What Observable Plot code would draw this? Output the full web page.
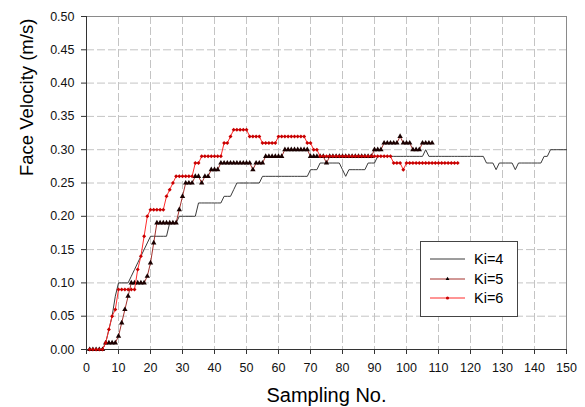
<!DOCTYPE html>
<html><head><meta charset="utf-8">
<script src="https://cdn.jsdelivr.net/npm/d3@7"></script>
<script src="https://cdn.jsdelivr.net/npm/@observablehq/plot@0.6"></script>
<style>
body{margin:0;background:#fff;font-family:Arial,"Liberation Sans",sans-serif;}
#wrap{position:relative;width:585px;height:407px;overflow:hidden;}
#legend{position:absolute;left:420px;top:241px;width:96px;height:74px;border:1px solid #444;background:#fff;font-size:14.5px;color:#000;}
#legend .row{position:absolute;left:0;height:18px;width:96px;}
#legend svg{position:absolute;left:9px;top:0;}
#legend span{position:absolute;left:53px;top:0;line-height:18px;}
</style></head><body><div id="wrap"></div>
<script>
const seriesNames = ["Ki=4", "Ki=5", "Ki=6"];
const xTicks = [0,10,20,30,40,50,60,70,80,90,100,110,120,130,140,150];
const yTicks = [0,0.05,0.10,0.15,0.20,0.25,0.30,0.35,0.40,0.45,0.50];

const ki4 = [
0,0,0,0,0,0.01,0.03,0.05,0.08,0.10,
0.10,0.10,0.10,0.11,0.12,0.13,0.14,0.15,0.16,0.17,
0.17,0.17,0.17,0.17,0.17,0.19,0.19,0.19,0.20,0.20,
0.20,0.20,0.20,0.20,0.22,0.22,0.22,0.22,0.22,0.22,
0.22,0.22,0.23,0.23,0.23,0.24,0.25,0.25,0.25,0.25,
0.25,0.25,0.25,0.25,0.26,0.26,0.26,0.26,0.26,0.26,
0.26,0.26,0.26,0.26,0.26,0.26,0.26,0.26,0.26,0.27,
0.27,0.27,0.28,0.28,0.28,0.28,0.28,0.28,0.28,0.27,
0.26,0.27,0.27,0.27,0.27,0.27,0.27,0.28,0.28,0.28,
0.29,0.29,0.29,0.29,0.29,0.29,0.29,0.29,0.29,0.29,
0.29,0.29,0.29,0.29,0.29,0.30,0.29,0.29,0.29,0.29,
0.29,0.29,0.29,0.29,0.29,0.29,0.29,0.29,0.29,0.29,
0.29,0.29,0.29,0.29,0.28,0.28,0.28,0.27,0.28,0.28,
0.28,0.28,0.28,0.27,0.28,0.28,0.28,0.28,0.28,0.28,
0.28,0.28,0.29,0.29,0.30,0.30,0.30,0.30,0.30,0.30];

const ki5 = [
0,0,0,0,0,0.01,0.01,0.01,0.01,0.02,
0.04,0.06,0.08,0.10,0.10,0.10,0.10,0.10,0.11,0.13,
0.16,0.19,0.19,0.19,0.19,0.19,0.19,0.19,0.21,0.23,
0.25,0.25,0.25,0.26,0.26,0.25,0.26,0.26,0.27,0.27,
0.27,0.28,0.28,0.28,0.28,0.28,0.28,0.28,0.28,0.28,
0.28,0.27,0.28,0.28,0.28,0.29,0.29,0.29,0.29,0.29,
0.29,0.30,0.30,0.30,0.30,0.30,0.30,0.30,0.30,0.29,
0.29,0.29,0.29,0.29,0.28,0.29,0.29,0.29,0.29,0.29,
0.29,0.29,0.29,0.29,0.29,0.29,0.29,0.29,0.29,0.30,
0.30,0.30,0.31,0.31,0.31,0.31,0.31,0.32,0.31,0.31,
0.31,0.30,0.30,0.30,0.31,0.31,0.31,0.31];

const ki6 = [
0,0,0,0,0,0.01,0.03,0.05,0.06,0.09,
0.09,0.09,0.09,0.09,0.09,0.12,0.14,0.17,0.20,0.21,
0.21,0.21,0.21,0.21,0.23,0.24,0.25,0.26,0.26,0.26,
0.26,0.26,0.26,0.28,0.28,0.29,0.29,0.29,0.29,0.29,
0.29,0.29,0.31,0.31,0.32,0.33,0.33,0.33,0.33,0.33,
0.32,0.32,0.32,0.32,0.31,0.31,0.31,0.31,0.31,0.32,
0.32,0.32,0.32,0.32,0.32,0.32,0.32,0.32,0.31,0.31,
0.30,0.30,0.29,0.29,0.29,0.29,0.29,0.29,0.29,0.29,
0.29,0.29,0.29,0.29,0.29,0.29,0.29,0.29,0.29,0.29,
0.29,0.29,0.29,0.29,0.29,0.28,0.28,0.28,0.27,0.28,
0.28,0.28,0.28,0.28,0.28,0.28,0.28,0.28,0.28,0.28,
0.28,0.28,0.28,0.28,0.28,0.28];

const toRows = (vals, name) => vals.map((v, i) => ({n: i + 1, v, name}));
const d4 = toRows(ki4, seriesNames[0]);
const d5 = toRows(ki5, seriesNames[1]);
const d6 = toRows(ki6, seriesNames[2]);

const colors = {k4: "#3a3a3a", k5: "#a3302c", k6: "#ff2b2b", m5: "#1a0000", m6: "#c80000"};

const chart = Plot.plot({
  width: 585, height: 407,
  marginLeft: 86, marginRight: 19, marginTop: 16, marginBottom: 58,
  style: {fontFamily: "Arial, 'Liberation Sans', sans-serif", fontSize: "12.5px", background: "#fff", color: "#111"},
  x: {domain: [0, 150]},
  y: {domain: [0, 0.5]},
  marks: [
    Plot.gridX(xTicks, {stroke: "#c4c4c4", strokeOpacity: 1, strokeDasharray: "8,3"}),
    Plot.gridY(yTicks, {stroke: "#c4c4c4", strokeOpacity: 1, strokeDasharray: "8,3"}),
    Plot.frame({stroke: "#8a8a8a"}),
    Plot.ruleX([0], {stroke: "#333"}),
    Plot.ruleY([0], {stroke: "#333"}),
    Plot.axisX(xTicks, {tickSize: 5, tickPadding: 9, label: null, stroke: "#333", fontSize: 12.5}),
    Plot.axisY(yTicks, {tickSize: 5, tickPadding: 7, label: null, tickFormat: d3.format(".2f"), stroke: "#333", fontSize: 12.5}),
    Plot.line(d4, {x: "n", y: "v", stroke: colors.k4, strokeWidth: 1}),
    Plot.line(d5, {x: "n", y: "v", stroke: colors.k5, strokeWidth: 1}),
    Plot.dot(d5, {x: "n", y: "v", symbol: "triangle", r: 2.0, fill: colors.m5, stroke: "none"}),
    Plot.line(d6, {x: "n", y: "v", stroke: colors.k6, strokeWidth: 1}),
    Plot.dot(d6, {x: "n", y: "v", symbol: "diamond2", r: 1.8, fill: colors.m6, stroke: "none"}),
    Plot.text(["Face Velocity (m/s)"], {frameAnchor: "left", dx: -59, dy: -7, rotate: -90, fontSize: 18.5, fill: "#000"}),
    Plot.text(["Sampling No."], {frameAnchor: "bottom", dy: 52, fontSize: 20, fill: "#000"})
  ]
});
const wrap = document.getElementById("wrap");
wrap.appendChild(chart);

// legend
const legend = document.createElement("div");
legend.id = "legend";
const legendItems = [
  {name: seriesNames[0], stroke: colors.k4, marker: null},
  {name: seriesNames[1], stroke: colors.k5, marker: "tri"},
  {name: seriesNames[2], stroke: colors.k6, marker: "dot"}
];
legendItems.forEach((it, i) => {
  const row = document.createElement("div");
  row.className = "row";
  row.style.top = (8 + i * 19.5) + "px";
  let mk = "";
  if (it.marker === "tri") mk = `<path d="M17.5,6.8 L19.4,10 L15.6,10 Z" fill="#000"/>`;
  if (it.marker === "dot") mk = `<circle cx="17.5" cy="9" r="1.6" fill="#c80000"/>`;
  row.innerHTML = `<svg width="36" height="18"><line x1="0" y1="9" x2="35" y2="9" stroke="${it.stroke}" stroke-width="1"/>${mk}</svg><span>${it.name}</span>`;
  legend.appendChild(row);
});
wrap.appendChild(legend);
</script>
</body></html>
